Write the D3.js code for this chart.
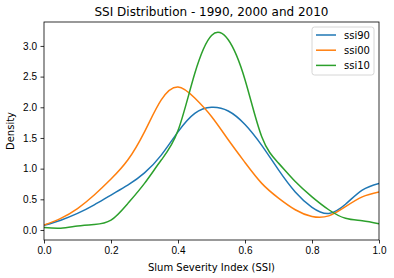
<!DOCTYPE html>
<html>
<head>
<meta charset="utf-8">
<script src="https://cdn.jsdelivr.net/npm/d3@7"></script>
<style>
  body { margin: 0; background: #fff; }
  svg { display: block; font-family: "DejaVu Sans", sans-serif; }
  .axis text { font-size: 10px; fill: #000; }
  .axis path, .axis line { stroke: #000; stroke-width: 0.8; }
</style>
</head>
<body>
<div id="chart"></div>
<script>
// SSI values on a 0.05 grid, density
const ssiGrid = [0, 0.05, 0.1, 0.15, 0.2, 0.25, 0.3, 0.35, 0.4, 0.45, 0.5,
  0.55, 0.6, 0.65, 0.7, 0.75, 0.8, 0.85, 0.9, 0.95, 1.0];
const ssi90 = [0.076, 0.16, 0.27, 0.41, 0.57, 0.73, 0.93, 1.22, 1.6, 1.9, 2.0,
  1.94, 1.72, 1.38, 0.98, 0.62, 0.37, 0.27, 0.42, 0.65, 0.76];
const ssi00 = [0.08, 0.19, 0.35, 0.57, 0.83, 1.14, 1.6, 2.12, 2.33, 2.15, 1.85,
  1.47, 1.1, 0.76, 0.52, 0.33, 0.22, 0.23, 0.38, 0.54, 0.62];
const ssi10 = [0.04, 0.03, 0.065, 0.09, 0.16, 0.43, 0.76, 1.14, 1.62, 2.55, 3.17,
  3.1, 2.45, 1.52, 1.09, 0.79, 0.54, 0.33, 0.19, 0.15, 0.10];
const seriesNames = ['ssi90', 'ssi00', 'ssi10'];
const seriesColors = ['#1f77b4', '#ff7f0e', '#2ca02c'];
const xTicks = [0, 0.2, 0.4, 0.6, 0.8, 1.0];
const yTicks = [0, 0.5, 1.0, 1.5, 2.0, 2.5, 3.0];

const W = 394, H = 278;
const margin = { top: 22, right: 15, bottom: 38, left: 44 };
const width = W - margin.left - margin.right;
const height = H - margin.top - margin.bottom;

const svg = d3.select('#chart').append('svg')
  .attr('width', W)
  .attr('height', H);

const g = svg.append('g')
  .attr('transform', `translate(${margin.left},${margin.top})`);

const x = d3.scaleLinear().domain([0, 1]).range([0, width]);
const y = d3.scaleLinear().domain([-0.163, 3.39]).range([height, 0]);

// curves (clipped to the axes)
svg.append('defs').append('clipPath').attr('id', 'clip')
  .append('rect').attr('width', width).attr('height', height);

const line = d3.line()
  .x(d => x(d[0]))
  .y(d => y(d[1]))
  .curve(d3.curveNatural);

[ssi90, ssi00, ssi10].forEach((vals, i) => {
  g.append('path')
    .datum(ssiGrid.map((s, j) => [s, vals[j]]))
    .attr('clip-path', 'url(#clip)')
    .attr('fill', 'none')
    .attr('stroke', seriesColors[i])
    .attr('stroke-width', 1.5)
    .attr('d', line);
});

// axes
g.append('g')
  .attr('class', 'axis')
  .attr('transform', `translate(0,${height})`)
  .call(d3.axisBottom(x).tickValues(xTicks).tickFormat(d3.format('.1f')).tickSize(3.5).tickPadding(3.5));

g.append('g')
  .attr('class', 'axis')
  .call(d3.axisLeft(y).tickValues(yTicks).tickFormat(d3.format('.1f')).tickSize(3.5).tickPadding(3.5));

g.selectAll('.axis .domain').remove();

// frame
g.append('rect')
  .attr('width', width)
  .attr('height', height)
  .attr('fill', 'none')
  .attr('stroke', '#000')
  .attr('stroke-width', 0.8);

// title and labels
svg.append('text')
  .attr('x', margin.left + width / 2)
  .attr('y', 16)
  .attr('text-anchor', 'middle')
  .style('font-size', '12px')
  .text('SSI Distribution - 1990, 2000 and 2010');

svg.append('text')
  .attr('x', margin.left + width / 2)
  .attr('y', H - 7)
  .attr('text-anchor', 'middle')
  .style('font-size', '10px')
  .text('Slum Severity Index (SSI)');

svg.append('text')
  .attr('transform', `translate(14,${margin.top + height / 2}) rotate(-90)`)
  .attr('text-anchor', 'middle')
  .style('font-size', '10px')
  .text('Density');

// legend
const legend = g.append('g')
  .attr('transform', `translate(${width - 67},5)`);

legend.append('rect')
  .attr('width', 62)
  .attr('height', 48)
  .attr('rx', 2.5)
  .attr('fill', '#fff')
  .attr('fill-opacity', 0.8)
  .attr('stroke', '#ccc')
  .attr('stroke-width', 0.8);

seriesNames.forEach((name, i) => {
  const row = legend.append('g')
    .attr('transform', `translate(0,${8 + i * 15.2})`);
  row.append('line')
    .attr('x1', 4).attr('x2', 24)
    .attr('stroke', seriesColors[i])
    .attr('stroke-width', 1.5);
  row.append('text')
    .attr('x', 32)
    .attr('y', 3.5)
    .style('font-size', '10px')
    .text(name);
});
</script>
</body>
</html>
